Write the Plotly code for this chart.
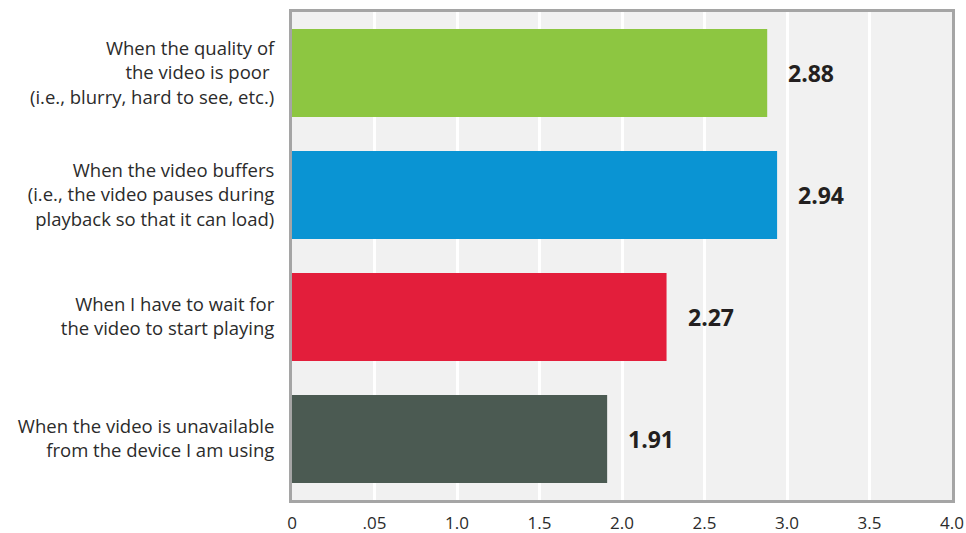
import plotly.graph_objects as go

categories = [
    "When the quality of<br>the video is poor <br>(i.e., blurry, hard to see, etc.)",
    "When the video buffers<br>(i.e., the video pauses during<br>playback so that it can load)",
    "When I have to wait for<br>the video to start playing",
    "When the video is unavailable<br>from the device I am using",
]
values = [2.88, 2.94, 2.27, 1.91]
value_labels = ["2.88", "2.94", "2.27", "1.91"]
colors = ["#8DC641", "#0A94D3", "#E31E3B", "#4B5A52"]
tick_vals = [0, 0.5, 1.0, 1.5, 2.0, 2.5, 3.0, 3.5, 4.0]
tick_text = ["0", ".05", "1.0", "1.5", "2.0", "2.5", "3.0", "3.5", "4.0"]

fig = go.Figure()
fig.add_trace(go.Bar(
    y=categories, x=values, orientation="h",
    marker=dict(color=colors, line=dict(width=0)),
    hoverinfo="skip",
))
for c, v, t in zip(categories, values, value_labels):
    fig.add_annotation(x=v, y=c, text="<b>" + t + "</b>", showarrow=False,
                       xanchor="left", xshift=19,
                       font=dict(family="Open Sans", size=23, color="#231F20"))

fig.update_layout(
    width=966, height=533,
    margin=dict(l=292, r=14, t=12, b=33),
    paper_bgcolor="white", plot_bgcolor="#F1F1F1",
    bargap=0.28, showlegend=False,
    font=dict(family="Open Sans", size=18, color="#2B2B2B"),
    xaxis=dict(range=[0, 4], tickvals=tick_vals, ticktext=tick_text,
               showgrid=True, gridcolor="white", gridwidth=3,
               showline=True, mirror=True, linecolor="#A5A5A5", linewidth=3,
               zeroline=False, ticks="", ticklabelstandoff=6, automargin=False,
               tickfont=dict(size=17, color="#2B2B2B")),
    yaxis=dict(autorange="reversed", showgrid=False, automargin=False,
               showline=True, mirror=True, linecolor="#A5A5A5", linewidth=3,
               ticks="", ticklabelstandoff=11,
               tickfont=dict(size=18.5, color="#2B2B2B")),
)
fig.write_html("out.html")
